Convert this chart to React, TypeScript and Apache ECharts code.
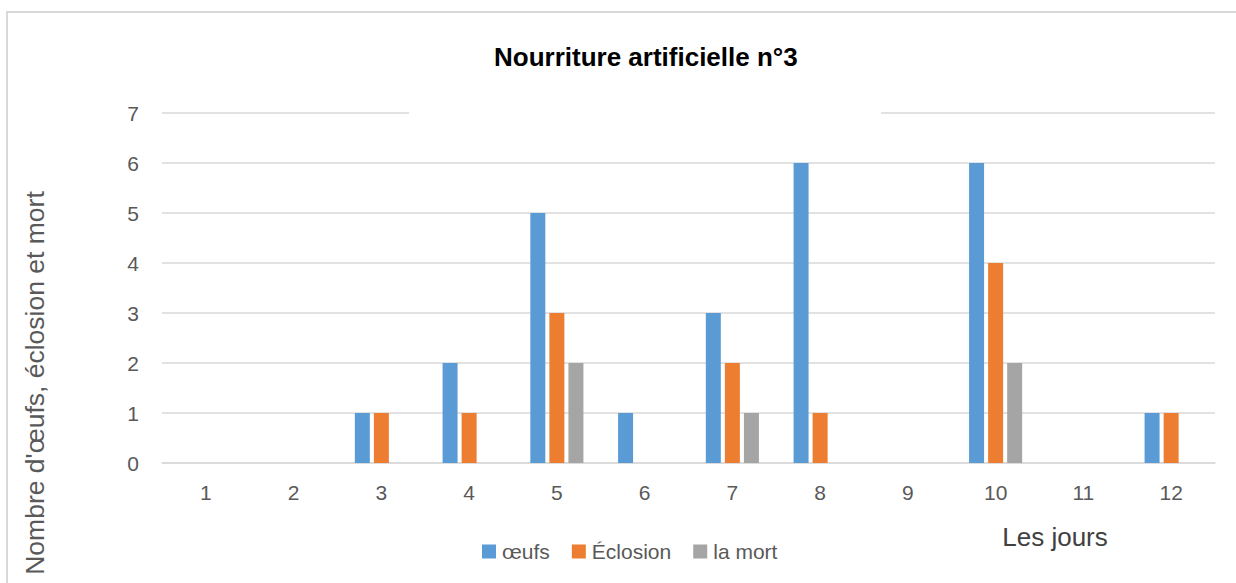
import React, { useEffect, useRef } from "react";
import * as echarts from "echarts";

const days = ["1", "2", "3", "4", "5", "6", "7", "8", "9", "10", "11", "12"];
const oeufs = [0, 0, 1, 2, 5, 1, 3, 6, 0, 6, 0, 1];
const eclosion = [0, 0, 1, 1, 3, 0, 2, 1, 0, 4, 0, 1];
const mort = [0, 0, 0, 0, 2, 0, 1, 0, 0, 2, 0, 0];
const yTicks = [0, 1, 2, 3, 4, 5, 6, 7];

const FONT = "Liberation Sans";

export default function App() {
  const ref = useRef<HTMLDivElement>(null);
  useEffect(() => {
    if (!ref.current) return;
    const chart = echarts.init(ref.current, undefined, { renderer: "svg" });
    chart.setOption({
      animation: false,
      backgroundColor: "#ffffff",
      textStyle: { fontFamily: FONT },
      title: {
        text: "Nourriture artificielle n°3",
        left: 494,
        top: 44,
        padding: 0,
        textStyle: { fontFamily: FONT, fontWeight: "bold", fontSize: 26, color: "#000000" },
      },
      legend: {
        top: 541,
        left: 482,
        padding: 0,
        itemWidth: 14,
        itemHeight: 14,
        itemGap: 22,
        icon: "rect",
        textStyle: { fontFamily: FONT, fontSize: 21, color: "#595959", padding: [0, 0, 0, 1] },
        data: ["œufs", "Éclosion", "la mort"],
      },
      grid: { left: 162, right: 21, top: 113, bottom: 120, containLabel: false },
      xAxis: {
        type: "category",
        data: days,
        axisLine: { lineStyle: { color: "#d9d9d9", width: 1.5 } },
        axisTick: { show: false },
        axisLabel: { fontFamily: FONT, fontSize: 21, color: "#595959", margin: 19 },
      },
      yAxis: {
        type: "value",
        min: yTicks[0],
        max: yTicks[yTicks.length - 1],
        interval: 1,
        axisLine: { show: false },
        axisTick: { show: false },
        axisLabel: { fontFamily: FONT, fontSize: 21, color: "#595959", margin: 23 },
        splitLine: { lineStyle: { color: "#d9d9d9", width: 1.5 } },
      },
      series: [
        { name: "œufs", type: "bar", data: oeufs, barWidth: 15, barGap: "27%", itemStyle: { color: "#5B9BD5" } },
        { name: "Éclosion", type: "bar", data: eclosion, barWidth: 15, barGap: "27%", itemStyle: { color: "#ED7D31" } },
        { name: "la mort", type: "bar", data: mort, barWidth: 15, barGap: "27%", itemStyle: { color: "#A5A5A5" } },
      ],
      graphic: [
        {
          type: "rect",
          z: 100,
          shape: { x: 7, y: 12, width: 1300, height: 700 },
          style: { fill: "none", stroke: "#d9d9d9", lineWidth: 2 },
        },
        {
          type: "rect",
          z: 100,
          shape: { x: 409, y: 109, width: 472, height: 8 },
          style: { fill: "#ffffff" },
        },
        {
          type: "text",
          z: 100,
          x: 35,
          y: 383,
          rotation: Math.PI / 2,
          style: {
            text: "Nombre d'œufs, éclosion et mort",
            fontFamily: FONT,
            fontSize: 26.5,
            fill: "#595959",
            align: "center",
            verticalAlign: "middle",
          },
        },
        {
          type: "text",
          z: 100,
          x: 1055,
          y: 537,
          style: {
            text: "Les jours",
            fontFamily: FONT,
            fontSize: 26,
            fill: "#404040",
            align: "center",
            verticalAlign: "middle",
          },
        },
      ],
    });
    return () => chart.dispose();
  }, []);
  return (
    <div
      ref={ref}
      style={{ position: "absolute", left: 0, top: 0, width: 1236, height: 583 }}
    />
  );
}
